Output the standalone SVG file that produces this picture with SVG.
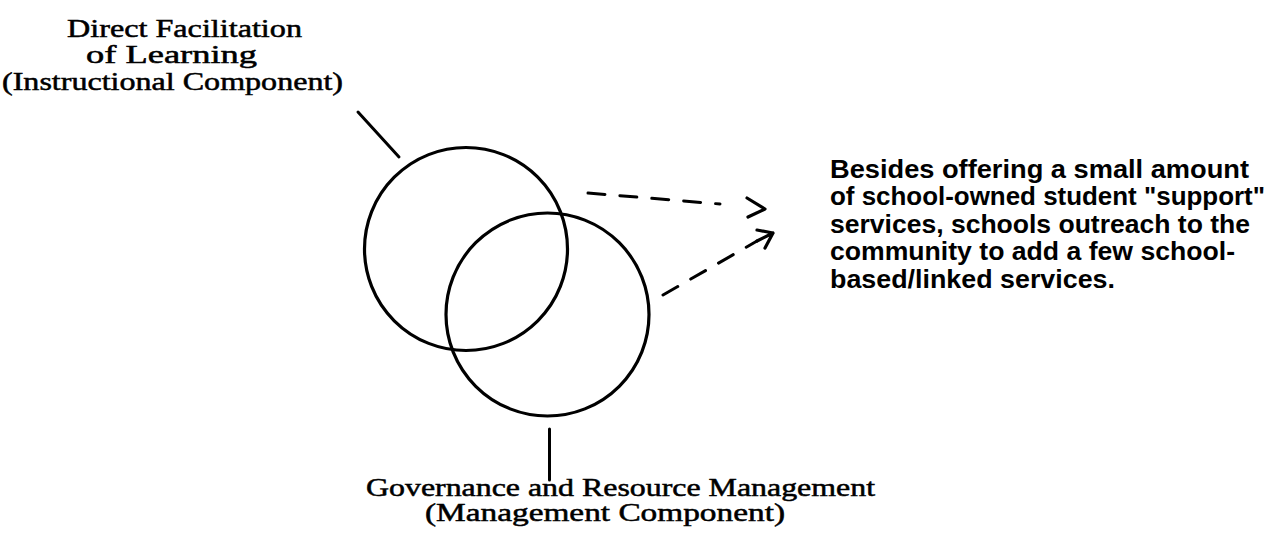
<svg xmlns="http://www.w3.org/2000/svg" width="1273" height="548" viewBox="0 0 1273 548">
<style>
.serif{font-family:"Liberation Serif","Times New Roman",serif;font-size:25px;fill:#000;stroke:#000;stroke-width:0.5}
.sans{font-family:"Liberation Sans",Arial,sans-serif;font-size:26.5px;font-weight:bold;fill:#000}
.ring{fill:none;stroke:#000;stroke-width:3.2}
.lead{stroke:#000;stroke-width:3;fill:none;stroke-linecap:round}
.dash{stroke:#000;stroke-width:3;fill:none;stroke-dasharray:17 15;stroke-linecap:round}
.head{stroke:#000;stroke-width:3.2;fill:none;stroke-linecap:round;stroke-linejoin:round}
</style>
<rect width="1273" height="548" fill="#fff"/>
<g id="instructional">
<circle class="ring" cx="466" cy="249" r="101.5"/>
<text class="serif" x="67" y="37" textLength="235" lengthAdjust="spacingAndGlyphs">Direct Facilitation</text>
<text class="serif" x="86" y="63" textLength="171" lengthAdjust="spacingAndGlyphs">of Learning</text>
<text class="serif" x="2" y="90" textLength="341" lengthAdjust="spacingAndGlyphs">(Instructional Component)</text>
</g>
<g id="management">
<circle class="ring" cx="547.5" cy="314.5" r="101.5"/>
<text class="serif" x="366" y="496" textLength="509" lengthAdjust="spacingAndGlyphs">Governance and Resource Management</text>
<text class="serif" x="425" y="521" textLength="360" lengthAdjust="spacingAndGlyphs">(Management Component)</text>
</g>
<g id="services">
<text class="sans" x="830" y="178" textLength="419" lengthAdjust="spacingAndGlyphs">Besides offering a small amount</text>
<text class="sans" x="830" y="205" textLength="435" lengthAdjust="spacingAndGlyphs">of school-owned student "support"</text>
<text class="sans" x="830" y="233" textLength="420" lengthAdjust="spacingAndGlyphs">services, schools outreach to the</text>
<text class="sans" x="830" y="260" textLength="405" lengthAdjust="spacingAndGlyphs">community to add a few school-</text>
<text class="sans" x="830" y="288" textLength="285" lengthAdjust="spacingAndGlyphs">based/linked services.</text>
</g>
<g id="connectors">
<line class="lead" x1="358" y1="112" x2="399" y2="157" stroke-width="3.5"/>
<line class="lead" x1="549.5" y1="429" x2="549.5" y2="480"/>
<path class="dash" d="M588 193 L720 204"/>
<path class="head" d="M747 198 L765 209 L748 217"/>
<path class="dash" d="M663 295 L757 241"/>
<path class="head" d="M757 230 L773 233 L765 248 M757 241 L773 233"/>
</g>
</svg>
